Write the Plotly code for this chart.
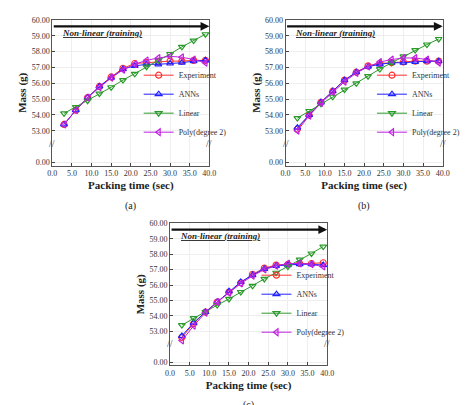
import plotly.graph_objects as go

x = [3, 6, 9, 12, 15, 18, 21, 24, 27, 30, 33, 36, 39]
exp_a = [53.4, 54.3, 55.1, 55.8, 56.4, 56.95, 57.25, 57.3, 57.35, 57.4, 57.4, 57.45, 57.45]
ann_a = [53.4, 54.3, 55.1, 55.8, 56.35, 56.9, 57.1, 57.2, 57.2, 57.25, 57.3, 57.4, 57.45]
lin_a = [54.1, 54.5, 54.9, 55.35, 55.75, 56.2, 56.6, 57.05, 57.45, 57.85, 58.3, 58.7, 59.1]
poly_a = [53.4, 54.3, 55.1, 55.75, 56.35, 56.85, 57.2, 57.45, 57.6, 57.7, 57.65, 57.5, 57.3]

exp_b = [53.1, 54.0, 54.8, 55.5, 56.2, 56.7, 57.1, 57.25, 57.3, 57.35, 57.4, 57.4, 57.4]
ann_b = [53.2, 54.0, 54.8, 55.5, 56.2, 56.7, 57.05, 57.2, 57.3, 57.3, 57.35, 57.4, 57.4]
lin_b = [53.8, 54.25, 54.7, 55.15, 55.6, 56.0, 56.45, 56.9, 57.3, 57.7, 58.1, 58.45, 58.8]
poly_b = [53.0, 53.95, 54.75, 55.45, 56.1, 56.65, 57.05, 57.35, 57.5, 57.6, 57.6, 57.5, 57.3]

exp_c = [52.6, 53.5, 54.25, 54.9, 55.55, 56.15, 56.7, 57.1, 57.3, 57.35, 57.4, 57.4, 57.45]
ann_c = [52.7, 53.55, 54.25, 54.9, 55.6, 56.2, 56.65, 57.05, 57.25, 57.3, 57.35, 57.35, 57.3]
lin_c = [53.4, 53.85, 54.25, 54.7, 55.1, 55.55, 55.95, 56.4, 56.8, 57.2, 57.65, 58.05, 58.5]
poly_c = [52.4, 53.35, 54.2, 54.9, 55.5, 56.1, 56.6, 57.0, 57.25, 57.4, 57.4, 57.35, 57.2]

ytick_vals = [51.0, 53, 54, 55, 56, 57, 58, 59, 60]
ytick_text = ["0.00", "53.00", "54.00", "55.00", "56.00", "57.00", "58.00", "59.00", "60.00"]
xtick_vals = [0, 5, 10, 15, 20, 25, 30, 35, 40]
xtick_text = ["0.0", "5.0", "10.0", "15.0", "20.0", "25.0", "30.0", "35.0", "40.0"]

names = ["Experiment", "ANNs", "Linear", "Poly(degree 2)"]
colors = ["#ff3030", "#2020ff", "#2a9a2a", "#c020e0"]
symbols = ["circle-open", "triangle-up-open", "triangle-down-open", "triangle-left-open"]

F = "Liberation Serif"
fig = go.Figure()

panels = [
    ("", [0.085, 0.425], [0.615, 0.98], [exp_a, ann_a, lin_a, poly_a], "legend", "a"),
    ("2", [0.59, 0.93], [0.615, 0.98], [exp_b, ann_b, lin_b, poly_b], "legend2", "b"),
    ("3", [0.34, 0.68], [0.115, 0.47], [exp_c, ann_c, lin_c, poly_c], "legend3", "c"),
]

for suf, xd, yd, series, leg, lab in panels:
    for i, s in enumerate(series):
        fig.add_trace(go.Scatter(
            x=x, y=s, name=names[i], mode="lines+markers",
            line=dict(color=colors[i], width=1),
            marker=dict(symbol=symbols[i], size=6, color=colors[i], line=dict(width=1.2)),
            xaxis="x" + suf, yaxis="y" + suf, legend=leg))
    ax = dict(domain=xd, range=[0, 40], tickvals=xtick_vals, ticktext=xtick_text,
              showline=True, mirror=True, linecolor="#555", ticks="inside", ticklen=3,
              showgrid=True, gridcolor="#eee", zeroline=False,
              tickfont=dict(family=F, size=8, color="#333"),
              title=dict(text="<b>Packing time (sec)</b>", font=dict(family=F, size=11, color="#222"), standoff=4),
              anchor="y" + suf)
    ay = dict(domain=yd, range=[50.8, 60], tickvals=ytick_vals, ticktext=ytick_text,
              showline=True, mirror=True, linecolor="#555", ticks="inside", ticklen=3,
              showgrid=True, gridcolor="#eee", zeroline=False,
              tickfont=dict(family=F, size=8, color="#333"),
              title=dict(text="<b>Mass (g)</b>", font=dict(family=F, size=11, color="#222"), standoff=2),
              anchor="x" + suf)
    fig.update_layout(**{"xaxis" + suf: ax, "yaxis" + suf: ay})
    fig.update_layout(**{leg: dict(x=xd[0] + 0.55 * (xd[1] - xd[0]), y=yd[0] + 0.13 * (yd[1] - yd[0]),
                                   xanchor="left", yanchor="bottom", bgcolor="rgba(0,0,0,0)",
                                   font=dict(family=F, size=8, color="#333"),
                                   tracegroupgap=0, itemsizing="trace", itemwidth=30)})
    xr, yr = "x" + suf, "y" + suf
    fig.add_annotation(x=40, y=59.6, ax=0, ay=59.6, xref=xr, yref=yr, axref=xr, ayref=yr,
                       showarrow=True, arrowhead=2, arrowsize=0.8, arrowwidth=2.2, arrowcolor="#111", text="")
    fig.add_annotation(x=2, y=59.2, xref=xr, yref=yr, xanchor="left", showarrow=False,
                       text="<b><i><u>Non-linear (training)</u></i></b>", font=dict(family=F, size=9, color="#222"))
    for xx in (0, 40):
        fig.add_annotation(x=xx, y=52.2, xref=xr, yref=yr, showarrow=False, text="//",
                           font=dict(family=F, size=10, color="#444"))
    fig.add_annotation(x=20, y=yd[0] - 0.08, xref=xr, yref="paper", yanchor="top", showarrow=False,
                       text="(" + lab + ")", font=dict(family=F, size=10, color="#222"))

fig.update_layout(width=474, height=405, margin=dict(l=0, r=0, t=0, b=0),
                  plot_bgcolor="white", paper_bgcolor="white", showlegend=True)
fig.write_html("out.html")
